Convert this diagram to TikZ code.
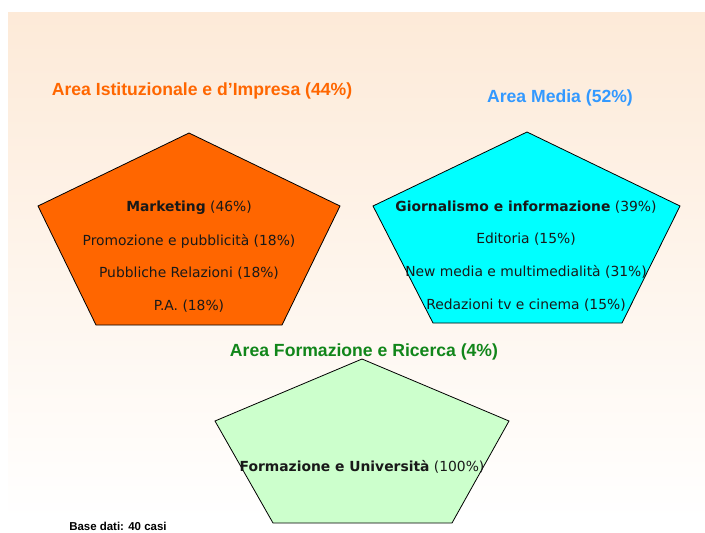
\documentclass[tikz,border=0pt]{standalone}
\usepackage{fontspec}
\setmainfont{DejaVu Sans}
\newfontfamily\arialfont{Liberation Sans}
\usetikzlibrary{positioning}
\definecolor{istorange}{HTML}{FF6600}
\definecolor{mediablue}{HTML}{3399FF}
\definecolor{formgreen}{HTML}{11861A}
\definecolor{mediacyan}{HTML}{00FFFF}
\definecolor{formfill}{HTML}{CCFFCC}
\definecolor{bgpeach}{HTML}{FDEAD8}
\tikzset{
  areatitle/.style={font=\arialfont\bfseries\fontsize{13.2}{15}\selectfont},
  item/.style={font=\fontsize{10.4}{12}\selectfont, text=black!90, inner sep=0pt},
  penta/.style={draw=black, line width=0.6pt}
}
\begin{document}
\begin{tikzpicture}[x=0.75pt,y=-0.75pt]
      \useasboundingbox (0,0) rectangle (705,532);
      \shade[top color=bgpeach, bottom color=white!98!bgpeach] (8,12) rectangle (705,512);
      % pentagons
      \draw[penta, fill=istorange]
        (189,133) coordinate (ia) -- (340,206) -- (282,325) -- (96,325) -- (38,206) -- cycle;
      \draw[penta, fill=mediacyan]
        (527,132) coordinate (ma) -- (680,206) -- (622,323) -- (433,323) -- (373,206) -- cycle;
      \draw[penta, fill=formfill]
        (362,359) coordinate (fa) -- (509,421) -- (452,523) -- (273,523) -- (215,421) -- cycle;
      % area titles
      \node[areatitle, text=istorange] (ist) at (202,91) {Area Istituzionale e d’Impresa (44\%)};
      \node[areatitle, text=mediablue] (media) at (560,98) {Area Media (52\%)};
      \node[areatitle, text=formgreen] (form) at (364,352) {Area Formazione e Ricerca (4\%)};
      % items
      \draw
        (189,208) node[item] (mkt) {\textbf{Marketing} (46\%)}
        (189,241) node[item] (promo) {Promozione e pubblicità (18\%)}
        (189,273) node[item] (pr) {Pubbliche Relazioni (18\%)}
        (189,306) node[item] (pa) {P.A. (18\%)};
      \draw
        (526,207) node[item] (giorn) {\textbf{Giornalismo e informazione} (39\%)}
        (526,239) node[item] (edit) {Editoria (15\%)}
        (526,272) node[item] (newm) {New media e multimedialità (31\%)}
        (526,305) node[item] (redaz) {Redazioni tv e cinema (15\%)};
      \draw
        (362,467) node[item] (univ) {\textbf{Formazione e Università} (100\%)};
      \node[font=\arialfont\bfseries\fontsize{8.6}{10}\selectfont, anchor=west, inner sep=0pt] (base) at (69,526) {Base dati: 40 casi};
    \end{tikzpicture}
\end{document}
